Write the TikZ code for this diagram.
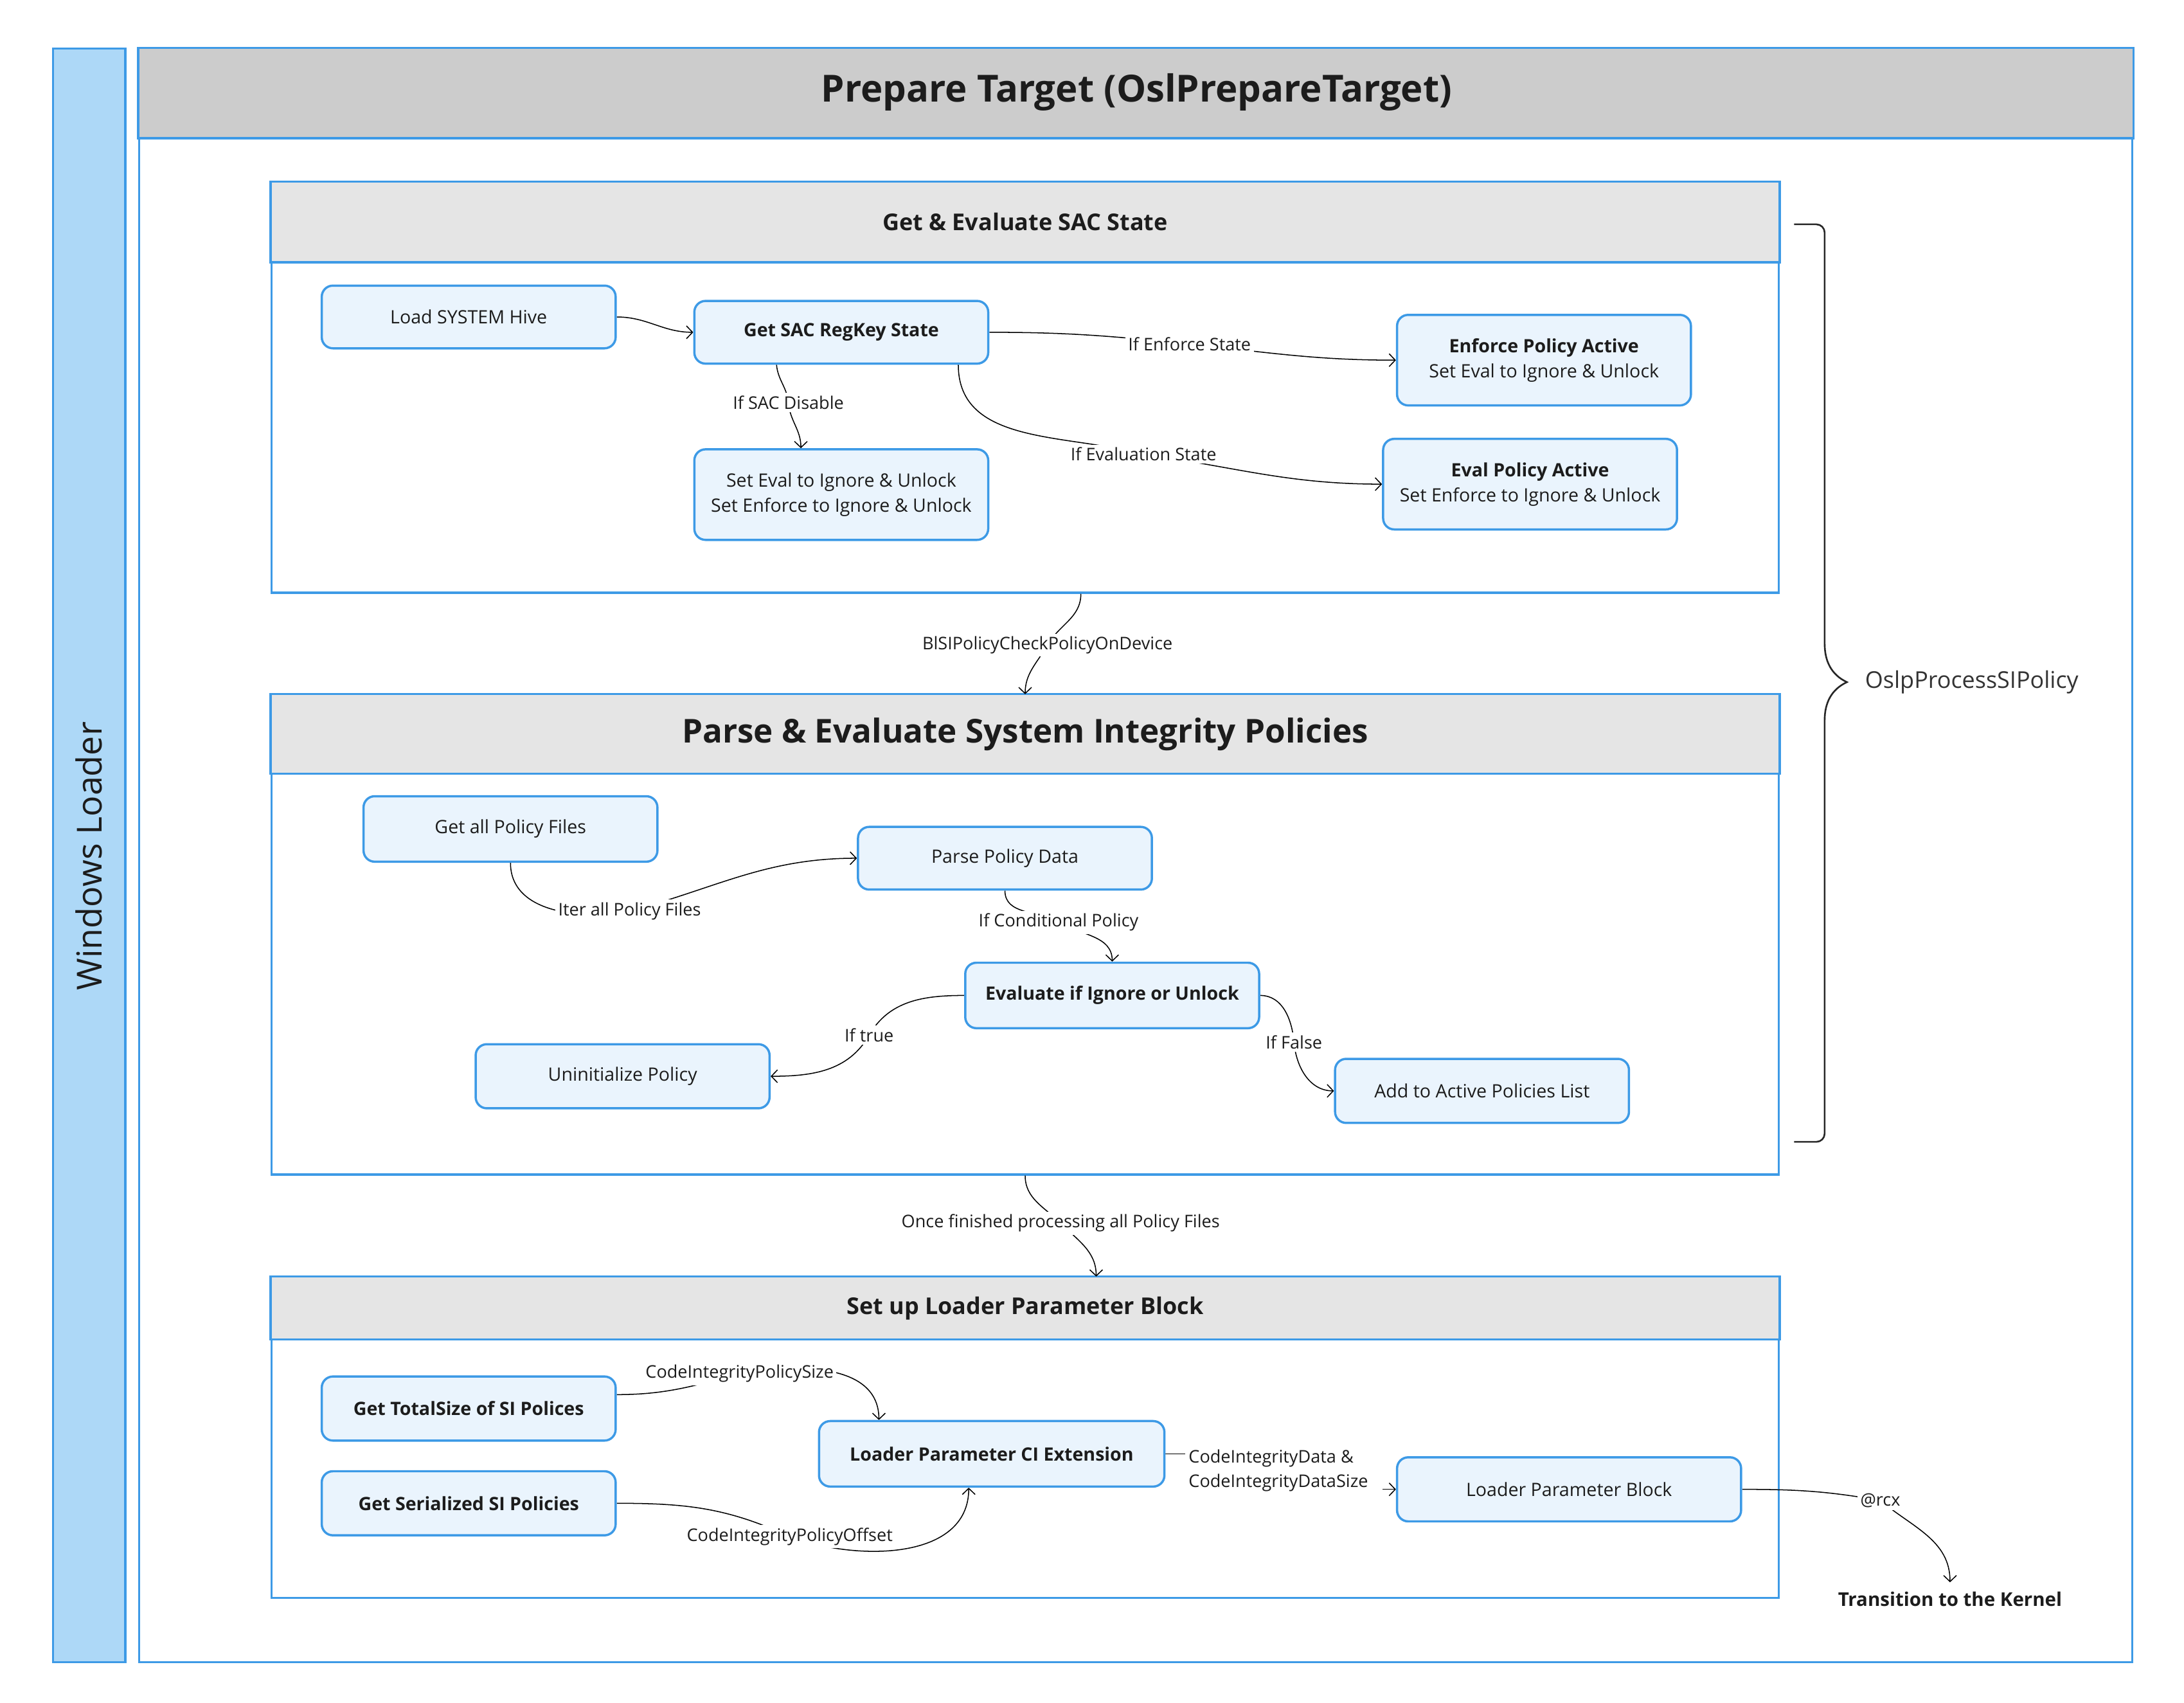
\documentclass[tikz,border=0pt]{standalone}
\usepackage{fontspec}
\setmainfont{Open Sans}
\usetikzlibrary{arrows.meta,calc,fit}
\definecolor{bblue}{HTML}{3D9AE6}
\definecolor{wlfill}{HTML}{ADD8F7}
\definecolor{nfill}{HTML}{EAF4FD}
\definecolor{hdrdark}{HTML}{CCCCCC}
\definecolor{hdrlight}{HTML}{E5E5E5}
\definecolor{txt}{HTML}{1C1C1C}
\pgfdeclarelayer{bglayer}
\pgfdeclarelayer{edgelayer}
\pgfsetlayers{bglayer,edgelayer,main}
\tikzset{
  box/.style={draw=bblue, line width=0.8pt, fill=nfill, rounded corners=4pt,
    minimum width=105.5pt, minimum height=22.5pt, align=center, inner sep=1pt,
    text=txt, font=\fontsize{6.6}{9}\selectfont},
  bbox/.style={box, font=\fontsize{6.6}{9}\selectfont\bfseries},
  elabel/.style={fill=white, inner sep=1pt, text=txt, font=\fontsize{6.25}{8.9}\selectfont},
  conn/.style={line width=0.35pt, draw=black},
  arr/.style={conn, -{Straight Barb[length=2.2pt,width=4.6pt]}},
  frame/.style={draw=bblue, line width=0.75pt},
  sectitle/.style={text=txt, font=\fontsize{8.3}{10}\selectfont\bfseries},
  brace/.style={line width=0.6pt, draw=black!85},
}
\begin{document}
\begin{tikzpicture}[x=0.5pt,y=0.5pt]
\useasboundingbox (0,0) rectangle (1568,-1222);
\begin{pgfonlayer}{bglayer}
  \fill[white] (0,0) rectangle (1568,-1222);
  \node[fit={(38,-35)(90,-1193)}, inner sep=0pt, frame, fill=wlfill] (wl) {};
  \node[fit={(100,-35)(1531,-1193)}, inner sep=0pt, frame, fill=white] (main) {};
  \draw[frame, fill=hdrdark] (main.north west) rectangle ($(main.north east)+(0,-65)$);
  \node[fit={(195,-131)(1277,-425.5)}, inner sep=0pt, frame, fill=white] (sac) {};
  \draw[frame, fill=hdrlight] (sac.north west) rectangle ($(sac.north east)+(0,-58)$);
  \node[fit={(195,-499)(1277,-843)}, inner sep=0pt, frame, fill=white] (si) {};
  \draw[frame, fill=hdrlight] (si.north west) rectangle ($(si.north east)+(0,-57)$);
  \node[fit={(195,-917)(1277,-1147)}, inner sep=0pt, frame, fill=white] (ldr) {};
  \draw[frame, fill=hdrlight] (ldr.north west) rectangle ($(ldr.north east)+(0,-45)$);
\end{pgfonlayer}

% titles
\node[rotate=90, font=\fontsize{12.4}{14}\selectfont, text=txt] (wlT) at (64,-614.5) {Windows Loader};
\node[font=\fontsize{13.4}{16}\selectfont\bfseries, text=txt] (title) at (816,-66) {Prepare Target (OslPrepareTarget)};
\node[sectitle] (sacT) at (736,-159) {Get \& Evaluate SAC State};
\node[sectitle, font=\fontsize{11.8}{14}\selectfont\bfseries] (siT) at (736,-527) {Parse \& Evaluate System Integrity Policies};
\node[sectitle] (ldrT) at (736,-939) {Set up Loader Parameter Block};

% boxes
\node[box] (load) at (336.5,-227.5) {Load SYSTEM Hive};
\node[bbox] (getsac) at (604,-238.5) {Get SAC RegKey State};
\node[box, minimum height=32.5pt] (setboth) at (604,-355) {Set Eval to Ignore \& Unlock\\Set Enforce to Ignore \& Unlock};
\node[box, minimum height=32.5pt] (enforce) at (1108.5,-258.5) {\textbf{Enforce Policy Active}\\Set Eval to Ignore \& Unlock};
\node[box, minimum height=32.5pt] (evalpol) at (1098.5,-347.5) {\textbf{Eval Policy Active}\\Set Enforce to Ignore \& Unlock};
\node[box, minimum height=23.5pt] (getall) at (366.5,-595) {Get all Policy Files};
\node[box] (parse) at (721.5,-616) {Parse Policy Data};
\node[bbox, minimum height=23.5pt] (evalig) at (798.5,-714.5) {Evaluate if Ignore or Unlock};
\node[box, minimum height=23pt] (uninit) at (447,-772.5) {Uninitialize Policy};
\node[box, minimum height=23pt] (addact) at (1064,-783) {Add to Active Policies List};
\node[bbox, minimum height=23pt] (totsize) at (336.5,-1011) {Get TotalSize of SI Polices};
\node[bbox, minimum height=23pt] (serial) at (336.5,-1079) {Get Serialized SI Policies};
\node[bbox, minimum width=124pt, minimum height=23.5pt] (ciext) at (712,-1043.5) {Loader Parameter CI Extension};
\node[box, minimum width=123.5pt, minimum height=23pt] (lpb) at (1126.5,-1069) {Loader Parameter Block};
\node[font=\fontsize{6.8}{8}\selectfont\bfseries, text=txt] (kernel) at (1400,-1148) {Transition to the Kernel};

% edge labels
\node[elabel] (lEnf) at (854,-247) {If Enforce State};
\node[elabel] (lDis) at (566,-289) {If SAC Disable};
\node[elabel] (lEv) at (821,-326) {If Evaluation State};
\node[elabel] (lBl) at (752,-463) {BlSIPolicyCheckPolicyOnDevice};
\node[elabel] (lIter) at (452,-654) {Iter all Policy Files};
\node[elabel] (lCond) at (760,-662) {If Conditional Policy};
\node[elabel] (lTrue) at (624,-743) {If true};
\node[elabel] (lFalse) at (929,-748) {If False};
\node[elabel] (lOnce) at (761.5,-878) {Once finished processing all Policy Files};
\node[elabel] (lSize) at (531,-986) {CodeIntegrityPolicySize};
\node[elabel] (lOff) at (567,-1103) {CodeIntegrityPolicyOffset};
\node[elabel, align=left, anchor=west] (lCid) at (851,-1055.5) {CodeIntegrityData \&\\CodeIntegrityDataSize};
\node[elabel] (lRcx) at (1350,-1077) {@rcx};

% brace
\draw[brace] (1288,-161) -- (1304,-161) to[out=0,in=90] (1310,-167) -- (1310,-462)
  to[out=-90,in=155] (1326,-489.6) to[out=205,in=90] (1310,-517) -- (1310,-813.6)
  to[out=-90,in=0] (1304,-819.6) -- (1288,-819.6);
\node[anchor=west, font=\fontsize{8.3}{10}\selectfont, text=black!80] (oslp) at (1332,-489.6) {OslpProcessSIPolicy};

% connectors
\begin{pgfonlayer}{edgelayer}
\draw[arr] (load.east) to[out=0,in=180] (getsac.west);
\draw[arr] (getsac.east) to[out=0,in=174] (lEnf.center) to[out=-6,in=180] (enforce.west);
\draw[arr] ($(getsac.south)+(-46.5,0)$) to[out=-85,in=95] (lDis.center) to[out=-85,in=90] ($(setboth.north)+(-29,0)$);
\draw[arr] ($(getsac.south)+(84,0)$) to[out=-90,in=165] (lEv.center) to[out=-8,in=180] (evalpol.west);
\draw[arr] ($(sac.south)+(40,0)$) to[out=-90,in=60] (lBl.center) to[out=-120,in=90] (si.north);
\draw[arr] (getall.south) to[out=-90,in=190] (lIter.center) to[out=15,in=180] (parse.west);
\draw[arr] (parse.south) to[out=-90,in=150] (lCond.center) to[out=-30,in=90] (evalig.north);
\draw[arr] (evalig.west) to[out=180,in=60] (lTrue.center) to[out=-120,in=0] (uninit.east);
\draw[arr] (evalig.east) to[out=0,in=95] (lFalse.center) to[out=-85,in=180] (addact.west);
\draw[arr] (si.south) to[out=-90,in=135] (lOnce.center) to[out=-45,in=90] ($(ldr.north)+(51,0)$);
\draw[arr] ($(totsize.east)+(0,10)$) to[out=0,in=195] (lSize.center) to[out=10,in=90] ($(ciext.north)+(-81,0)$);
\draw[arr] (serial.east) to[out=0,in=155] (lOff.center) to[out=-20,in=-90] ($(ciext.south)+(-16.5,0)$);
\draw[conn] (ciext.east) -- (ciext.east -| lCid.west);
\draw[arr] (lpb.west -| lCid.east) ++(8,0) -- (lpb.west);
\draw[arr] (lpb.east) to[out=0,in=170] (lRcx.center) to[out=-40,in=90] (kernel.north);
\end{pgfonlayer}
\end{tikzpicture}
\end{document}
